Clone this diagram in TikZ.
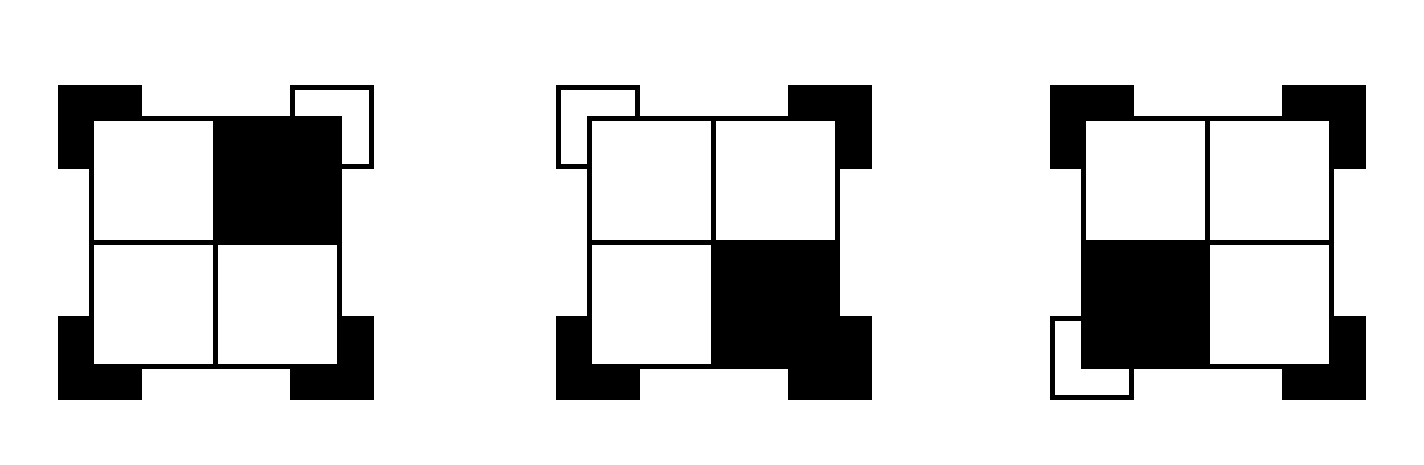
\documentclass[tikz,border=0pt]{standalone}
\usepackage{tikz}
\begin{document}
\begin{tikzpicture}[x=1pt,y=1pt,
  corner/.style={fill=black},
  hole/.style={fill=white},
  cell/.style={fill=white},
  mark cell/.style={fill=black}]
  \useasboundingbox[fill=white] (0,0) rectangle (1424,464);
  % figure offset / hollow corner (col,row) / black cell (col,row)
  \foreach \ox/\hc/\hr/\bc/\br in {58/1/1/1/1, 556/0/1/1/0, 1050/0/0/0/0}{
    \begin{scope}[shift={(\ox,64)}]
      \foreach \c in {0,1}
        \foreach \r in {0,1}
          \fill[corner] (232*\c,231*\r) rectangle ++(84,84);
      \fill[hole] (232*\hc+5,231*\hr+5) rectangle ++(74,74);
      \fill[black] (31,31) rectangle ++(253,253);
      \foreach \c in {0,1}
        \foreach \r in {0,1}
          \fill[cell] (36+124*\c,36+124*\r) rectangle ++(119,119);
      \fill[mark cell] (36+124*\bc,36+124*\br) rectangle ++(119,119);
    \end{scope}
  }
\end{tikzpicture}
\end{document}
